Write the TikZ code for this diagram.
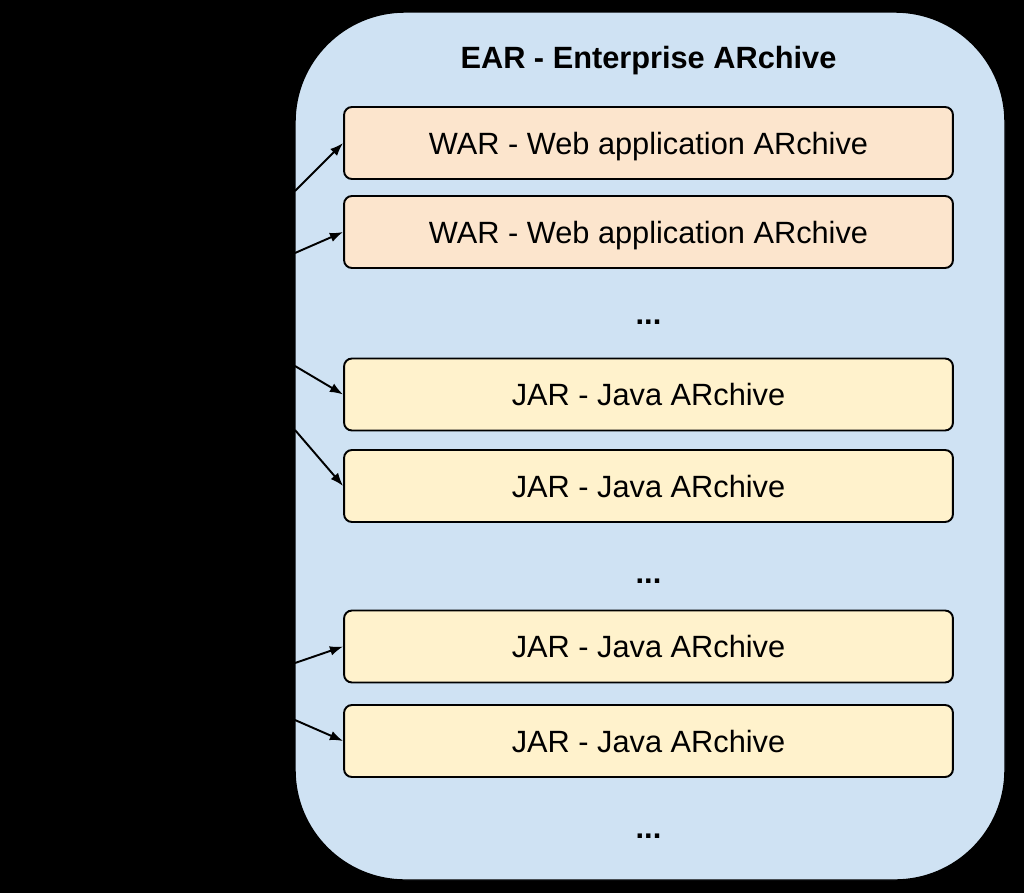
\documentclass[tikz,border=0pt]{standalone}
\usepackage{fontspec}
\setmainfont{Liberation Sans}
\usetikzlibrary{arrows.meta, positioning}
\definecolor{cblue}{HTML}{CFE2F3}
\definecolor{corange}{HTML}{FCE5CD}
\definecolor{cyellow}{HTML}{FFF2CC}
\tikzset{
  every picture/.style={line width=1.1pt},
  archive/.style={draw=black, fill=#1, rounded corners=4.5pt, minimum width=12.18cm, minimum height=1.44cm, text depth=0pt, font=\fontsize{17.5}{21}\selectfont},
  archive/.default=cyellow,
  arrow/.style={-{Latex[length=7.5pt, width=5.5pt]}, draw=black, line width=1.1pt},
  title/.style={font=\fontsize{17.5}{21}\selectfont\bfseries, text depth=0pt},
  dots/.style={font=\fontsize{17.5}{21}\selectfont\bfseries, anchor=base},
}
\begin{document}
\begin{tikzpicture}[x=0.02cm, y=-0.02cm]
  \fill[black] (0,0) rectangle (1024,893);
  \draw[fill=cblue, draw=black, line width=0.8pt, rounded corners=2.2cm] (295,12) rectangle (1005,880);
  \node[title] (ear) at (648.5,57) {EAR - Enterprise ARchive};
  \foreach \n/\y/\txt/\c in {war1/143/{WAR - Web application ARchive}/corange, war2/232/{WAR - Web application ARchive}/corange,
    jar1/394.5/{JAR - Java ARchive}/cyellow, jar2/486/{JAR - Java ARchive}/cyellow,
    jar3/646.5/{JAR - Java ARchive}/cyellow, jar4/741/{JAR - Java ARchive}/cyellow} {
    \node[archive=\c] (\n) at (648.5,\y) {\txt};
  }
  \foreach \n/\y in {d1/324, d2/583, d3/838} {
    \node[dots] (\n) at (648.5,\y) {...};
  }
  % free ends on the left edge of the EAR
  \foreach \s/\y in {s1/191, s2/253, s3/366, s4/430, s5/663, s6/720} {
    \coordinate (\s) at (295,\y);
  }
  \foreach \s/\t in {s1/war1, s2/war2, s3/jar1, s4/jar2, s5/jar3, s6/jar4} {
    \draw[arrow] (\s) -- (\t.west);
  }
\end{tikzpicture}
\end{document}
